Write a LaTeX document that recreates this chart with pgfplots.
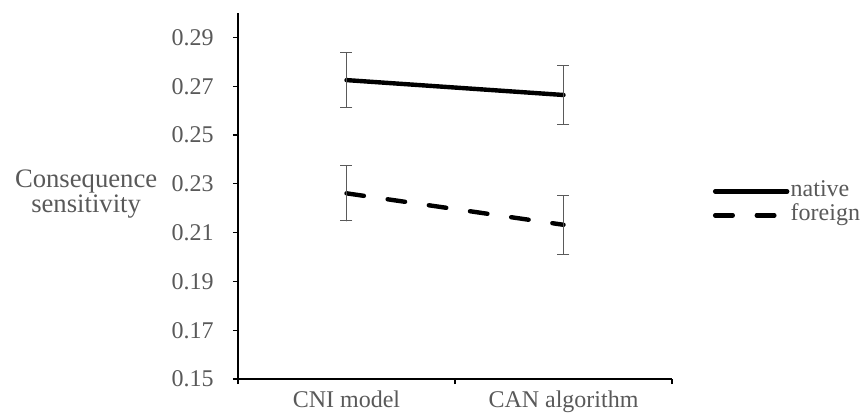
\documentclass[border=0pt]{standalone}
\usepackage{fontspec}
\setmainfont{Liberation Serif}
\usepackage{pgfplots}
\pgfplotsset{compat=1.18}
\definecolor{txtgray}{HTML}{595959}
\definecolor{errgray}{HTML}{5A5A5A}

\begin{document}
\begin{tikzpicture}
\useasboundingbox (-178.5pt,-30pt) rectangle (467.25pt,284.25pt);
\begin{axis}[
    at={(0pt,0pt)}, anchor=south west,
    scale only axis,
    width=325.5pt, height=274.5pt,
    clip=false,
    xmin=-0.5, xmax=1.5,
    ymin=0.15, ymax=0.30,
    ytick={0.15,0.17,0.19,0.21,0.23,0.25,0.27,0.29},
    xtick={-0.5,0.5,1.5},
    xticklabels={},
    extra x ticks={0,1},
    extra x tick labels={CNI model, CAN algorithm},
    extra x tick style={major tick length=0pt},
    axis x line*=bottom,
    axis y line*=left,
    axis line style={-, line width=1pt, black},
    tick style={black, line width=1pt},
    tick align=outside,
    major tick length=3.75pt,
    /pgf/number format/assume math mode=true,
    /pgf/number format/fixed,
    /pgf/number format/fixed zerofill,
    /pgf/number format/precision=2,
    tick label style={font=\fontsize{18pt}{18.75pt}\selectfont, text=txtgray},
    yticklabel style={xshift=-11pt},
    xticklabel style={yshift=-5pt},
    legend style={
        at={(axis description cs:1.0938,0.48)}, anchor=west,
        draw=none, fill=none, inner sep=0pt,
        font=\fontsize{18pt}{18.75pt}\selectfont, text=txtgray,
        nodes={text height=12pt, text depth=4pt, inner sep=1pt},
        row sep=0pt,
    },
    legend cell align=left,
    legend image code/.code={\draw[#1] (0pt,0pt) -- (54pt,0pt);},
]
    \addplot[
        black, line width=3.3pt, line cap=round,
        error bars/.cd, y dir=both, y explicit,
        error bar style={errgray, line width=0.75pt, solid},
        error mark options={rotate=90, errgray, mark size=4.5pt, line width=0.75pt, solid},
    ] coordinates {
        (0, 0.2725) +- (0, 0.0112)
        (1, 0.2664) +- (0, 0.0119)
    };
    \addlegendentry{native}
    \addplot[
        black, line width=3.3pt, line cap=round,
        dash pattern=on 13.2pt off 18pt,
        error bars/.cd, y dir=both, y explicit,
        error bar style={errgray, line width=0.75pt, solid},
        error mark options={rotate=90, errgray, mark size=4.5pt, line width=0.75pt, solid},
    ] coordinates {
        (0, 0.2261) +- (0, 0.0113)
        (1, 0.2132) +- (0, 0.0120)
    };
    \addlegendentry{foreign}
    \node[align=center, text=txtgray, font=\fontsize{20pt}{19pt}\selectfont]
        at (axis description cs:-0.35,0.505) {Consequence\\sensitivity};
\end{axis}
\end{tikzpicture}
\end{document}
